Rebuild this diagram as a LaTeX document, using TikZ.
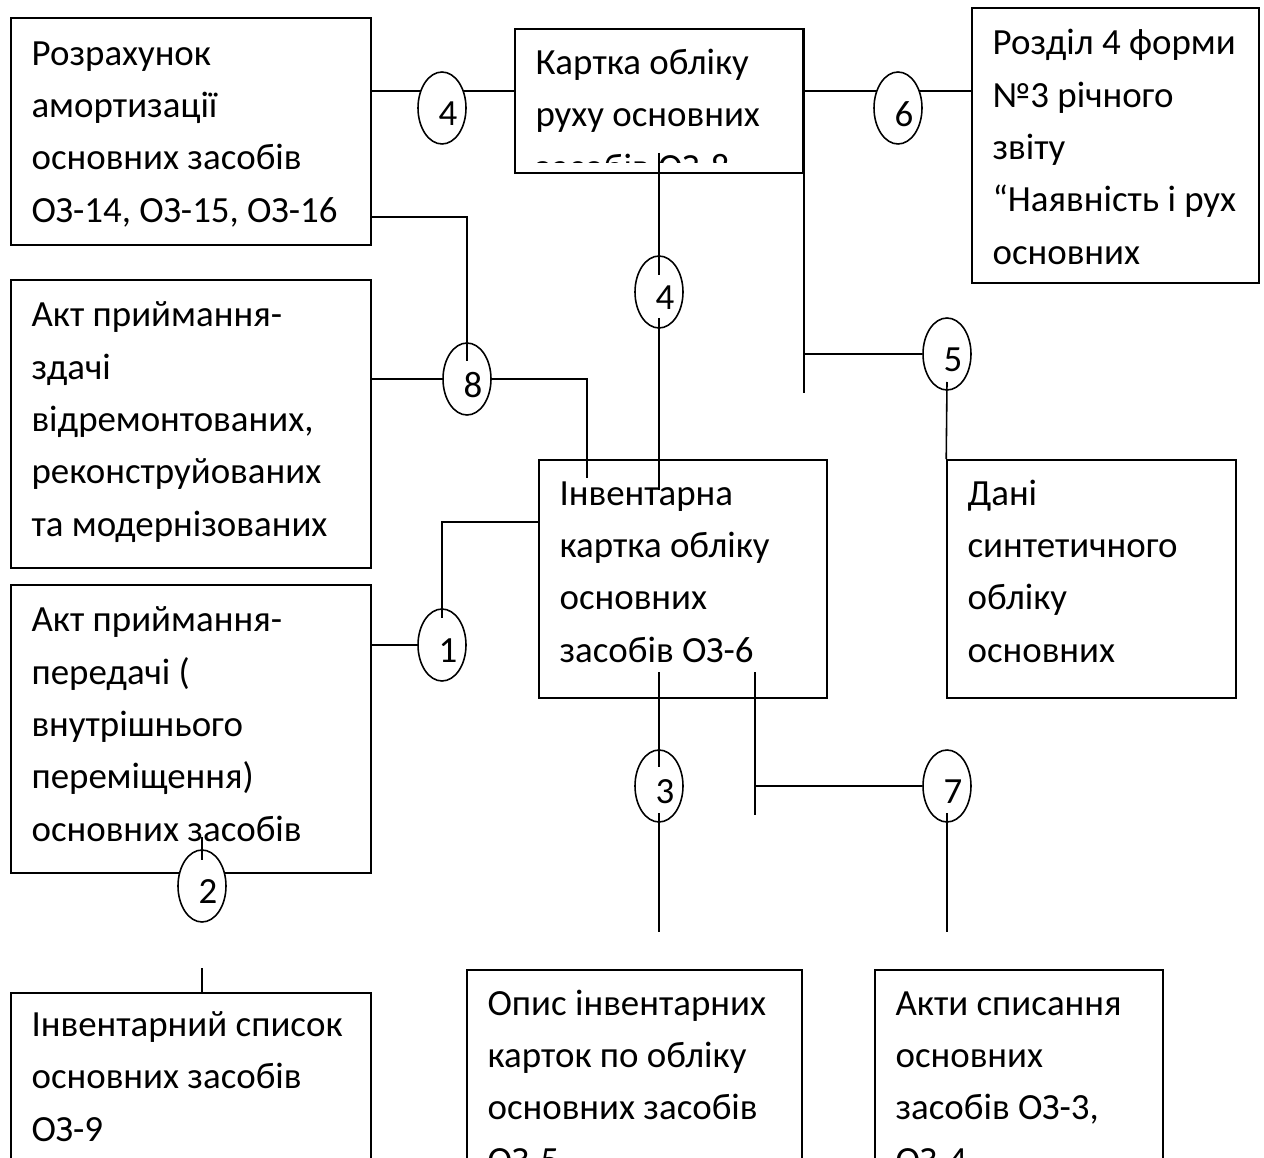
\documentclass[tikz,border=0pt]{standalone}
\usepackage{fontspec}
\setmainfont{Carlito}
\usetikzlibrary{shapes.geometric, fit, calc, backgrounds, positioning}

\tikzset{
  box/.style={draw, rectangle, inner sep=0pt, line width=0.9pt},
  txt/.style={anchor=base west, align=left, inner sep=0pt, font=\fontsize{21}{29.8}\selectfont},
  oval/.style={draw, ellipse, fill=white, minimum width=0.96cm, minimum height=1.44cm, inner sep=0pt, line width=0.9pt},
  num/.style={xshift=3.4pt, yshift=-3.4pt, inner sep=0pt, font=\fontsize{21}{25}\selectfont},
  link/.style={line width=0.9pt},
}

\begin{document}
\begin{tikzpicture}[x=0.02cm, y=-0.02cm]
\useasboundingbox (0,0) rectangle (1264,1158);
\clip (0,0) rectangle (1264,1158);

% boxes
\node[box, fit={(11,18) (371,245)}] (amort) {};
\node[box, fit={(515,29) (803,173)}] (kartka) {};
\node[box, fit={(972,8) (1259,283)}] (rozdil) {};
\node[box, fit={(11,280) (371,568)}] (zdachi) {};
\node[box, fit={(11,585) (371,873)}] (peredachi) {};
\node[box, fit={(11,993) (371,1200)}] (spysok) {};
\node[box, fit={(539,460) (827,698)}] (inv) {};
\node[box, fit={(947,460) (1236,698)}] (dani) {};
\node[box, fit={(467,970) (802,1200)}] (opys) {};
\node[box, fit={(875,970) (1163,1200)}] (akty) {};

% box texts (placed by the baseline of the last line)
\node[txt] at ($(amort.north west)+(21,205)$) {Розрахунок\\амортизації\\основних засобів\\ОЗ-14, ОЗ-15, ОЗ-16};
\begin{scope}
  \clip (kartka.north west) rectangle ($(kartka.south east)+(0,-11)$);
  \node[txt] at ($(kartka.north west)+(21,151)$) {Картка обліку\\руху основних\\засобів ОЗ-8};
\end{scope}
\node[txt] at ($(rozdil.north west)+(21,257)$) {Розділ 4 форми\\№3 річного\\звіту\\“Наявність і рух\\основних};
\node[txt] at ($(zdachi.north west)+(21,257)$) {Акт приймання-\\здачі\\відремонтованих,\\реконструйованих\\та модернізованих};
\node[txt] at ($(peredachi.north west)+(21,257)$) {Акт приймання-\\передачі (\\внутрішнього\\переміщення)\\основних засобів};
\node[txt] at ($(spysok.north west)+(21,149)$) {Інвентарний список\\основних засобів\\ОЗ-9};
\node[txt] at ($(inv.north west)+(21,203)$) {Інвентарна\\картка обліку\\основних\\засобів ОЗ-6};
\node[txt] at ($(dani.north west)+(21,203)$) {Дані\\синтетичного\\обліку\\основних};
\node[txt] at ($(opys.north west)+(21,203)$) {Опис інвентарних\\карток по обліку\\основних засобів\\ОЗ-5};
\node[txt] at ($(akty.north west)+(21,203)$) {Акти списання\\основних\\засобів ОЗ-3,\\ОЗ-4};

% numbered ovals
\node[oval, label={[num]center:4}] (e4a) at (442,108) {};
\node[oval, label={[num]center:6}] (e6) at (898,108) {};
\node[oval, label={[num]center:4}] (e4b) at (659,292) {};
\node[oval, label={[num]center:5}] (e5) at (947,354) {};
\node[oval, label={[num]center:8}] (e8) at (467,379) {};
\node[oval, label={[num]center:1}] (e1) at (442,645) {};
\node[oval, label={[num]center:3}] (e3) at (659,786) {};
\node[oval, label={[num]center:7}] (e7) at (947,786) {};
\node[oval, label={[num]center:2}] (e2) at (202,886) {};

% lines running behind ovals 4 and 6
\begin{scope}[on background layer]
  \draw[link] (amort.east |- 0,91) -- (kartka.west |- 0,91);
  \draw[link] (kartka.east |- 0,91) -- (rozdil.west |- 0,91);
\end{scope}

\coordinate (c8) at (587,478);
\coordinate (c7) at (755,672);

% connectors
\draw[link] (kartka.north east) -- (kartka.east |- 0,393);
\draw[link] (kartka.east |- e5.west) -- (e5.west);
\draw[link] (e5.center |- 0,382) -- (dani.north west);
\draw[link] (e4b.center |- 0,153) -- (e4b.center |- 0,275);
\draw[link] (e4b.center |- 0,318) -- (e4b.center |- 0,490);
\draw[link] (amort.east |- 0,217) -| (e8.center |- 0,361);
\draw[link] (zdachi.east |- e8.west) -- (e8.west);
\draw[link] (e8.east) -| (c8);
\draw[link] (inv.west |- 0,522) -| (e1.center |- 0,618);
\draw[link] (peredachi.east |- e1.west) -- (e1.west);
\draw[link] (e3.center |- 0,672) -- (e3.center |- 0,767);
\draw[link] (e3.center |- 0,813) -- (e3.center |- 0,932);
\draw[link] (c7) -- (c7 |- 0,815);
\draw[link] (c7 |- e7.west) -- (e7.west);
\draw[link] (e7.center |- 0,813) -- (e7.center |- 0,932);
\draw[link] (e2.center |- 0,837) -- (e2.center |- 0,860);
\draw[link] (e2.center |- 0,968) -- (e2 |- spysok.north);
\end{tikzpicture}
\end{document}
